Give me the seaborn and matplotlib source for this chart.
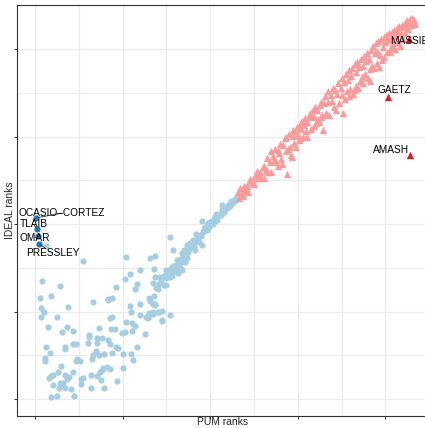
import numpy as np
import pandas as pd
import matplotlib
matplotlib.use("Agg")
import matplotlib.pyplot as plt
import seaborn as sns
from matplotlib.ticker import MultipleLocator, NullFormatter

# ---------------- data (ranks) ----------------
dem_pum = [7, 10, 7, 25, 38, 15, 31, 37, 43, 62, 62, 73, 66, 83, 13, 17, 11, 11, 34, 34,
           43, 47, 48, 47, 51, 61, 71, 71, 76, 83, 70, 66, 65, 73, 79, 86, 87, 91, 88, 86,
           104, 111, 114, 111, 103, 99, 93, 95, 88, 100, 110, 112, 116, 125, 120, 120, 109, 130, 135, 135,
           142, 145, 135, 137, 129, 86, 82, 77, 74, 78, 71, 75, 64, 79, 64, 94, 101, 55, 53, 53,
           43, 39, 36, 41, 34, 31, 27, 28, 32, 34, 30, 26, 20, 16, 18, 21, 18, 25, 45,
           13, 55, 104, 131, 137, 154, 158, 8, 29, 18, 6, 83, 88, 92, 103, 109, 120, 116, 114, 110,
           130, 131, 137, 136, 138, 135, 141, 136, 137, 144, 147, 145, 140, 130, 127, 145, 149, 150, 154, 156,
           159, 162, 163, 168, 166, 162, 171, 173, 168, 170, 175, 177, 181, 183, 187, 191, 184, 189, 192, 191,
           194, 198, 196, 202, 206, 208, 211, 213, 216, 219, 221, 225, 227, 231, 213, 154,
           200, 204, 210, 215, 218, 222, 224, 228, 229, 226, 223, 220, 217, 214, 212, 209, 207, 205, 203, 199,
           197, 193, 190, 186, 183, 180, 178, 176, 174, 172, 169, 167, 165, 161, 158, 157, 155, 152, 148, 146,
           143, 150, 140]
dem_ideal = [104, 99, 94, 94, 105, 82, 77, 82, 78, 73, 71, 81, 111, 113, 59, 53, 47, 44, 59, 57,
             63, 63, 46, 44, 44, 64, 70, 64, 70, 68, 55, 50, 46, 50, 51, 63, 80, 80, 94, 93,
             88, 87, 84, 78, 77, 75, 59, 58, 53, 51, 51, 45, 59, 74, 96, 109, 106, 96, 100, 97,
             100, 89, 109, 109, 93, 34, 37, 33, 31, 35, 26, 22, 27, 13, 13, 21, 36, 24, 23, 17,
             31, 25, 23, 12, 13, 16, 13, 18, 18, 27, 38, 31, 27, 24, 26, 16, 2, 3, 4,
             175, 158, 162, 161, 163, 185, 170, 135, 129, 118, 116, 114, 116, 128, 137, 143, 148, 132, 126, 100,
             115, 112, 107, 118, 127, 133, 132, 149, 140, 136, 130, 101, 99, 98, 94, 90, 148, 138, 140, 141,
             149, 146, 144, 147, 155, 159, 157, 161, 167, 170, 168, 178, 175, 170, 179, 176, 189, 186, 191, 203,
             197, 199, 193, 204, 208, 205, 212, 216, 214, 218, 222, 224, 226, 231, 222, 96,
             202, 206, 210, 217, 220, 223, 226, 229, 228, 225, 221, 219, 216, 213, 210, 209, 211, 203, 200, 197,
             201, 194, 188, 185, 181, 182, 174, 172, 176, 165, 162, 160, 151, 153, 152, 145, 150, 146, 142, 139,
             140, 130, 126]

rep_pum = [232, 233, 234, 236, 237, 238, 239, 241, 242, 243, 245, 246, 248, 249, 250, 252, 253, 254, 256, 257,
           258, 260, 261, 262, 264,
           265, 266, 268, 269, 270, 272, 273, 274, 275, 277, 278, 279, 280, 281, 282, 283, 285, 286, 287, 288,
           289, 290, 291, 292, 293, 294, 295, 296, 297, 298, 299, 300, 301, 302, 303, 304, 305, 306, 307, 308,
           309, 310, 311, 313, 314, 315, 316, 317, 318, 319, 320, 321, 322, 323, 324, 325, 326, 327, 328, 329, 330,
           331, 332, 334, 335, 336, 338, 339, 340, 341, 343, 344, 345, 346, 347, 349, 350, 351, 352, 353, 354,
           355, 356, 357, 358, 359, 360, 361, 362, 363, 364, 365, 366, 367, 368, 369, 370, 371, 372, 373, 374,
           375, 376, 377, 378, 379, 380, 381, 382, 383, 384, 385, 386, 387, 388, 389, 390, 391, 392, 393, 394,
           395, 396, 397, 398, 399, 400, 401, 402, 403, 404, 405, 406, 407, 408, 409, 410, 411, 412, 413, 414,
           415, 416, 417, 418, 419, 420,
           421, 422, 423, 424, 425, 426, 427, 428, 429, 430, 431, 433, 434]
rep_ideal = [237, 230, 241, 235, 232, 241, 244, 239, 243, 237, 249, 252, 247, 251, 246, 257, 253, 261, 253, 260,
             254, 265, 253, 266, 262,
             275, 260, 271, 283, 260, 278, 273, 286, 271, 285, 266, 281, 292, 274, 269, 290, 298, 284, 299, 257,
             286, 303, 288, 279, 277, 301, 308, 293, 306, 288, 311, 302, 296, 314, 298, 309, 318, 300, 313, 321,
             306, 317, 300, 322, 327, 309, 322, 330, 312, 324, 334, 316, 330, 320, 317, 336, 322, 340, 325, 307, 338,
             346, 327, 340, 352, 325, 348, 341, 356, 334, 353, 330, 349, 361, 338, 356, 367, 348, 327, 362, 343,
             372, 352, 365, 346, 376, 354, 369, 378, 349, 353, 383, 358, 374, 385, 356, 379, 364, 389, 368, 381,
             361, 392, 372, 386, 396, 367, 389, 377, 364, 399, 381, 404, 378, 395, 407, 384, 398, 409, 380, 393,
             412, 388, 402, 414, 391, 408, 416, 397, 410, 418, 397, 412, 402, 420, 405, 422, 400, 415, 424, 408,
             419, 426, 403, 418, 428, 412,
             425, 430, 418, 429, 433, 423, 431, 434, 427, 435, 432, 433, 429]

hl_names = ["OCASIO\u2013CORTEZ", "TLAIB", "OMAR", "PRESSLEY", "MASSIE", "GAETZ", "AMASH"]
hl_pum = [1, 2, 3, 5, 427, 403, 428]
hl_ideal = [207, 194, 186, 177, 411, 345, 279]
hl_party = ["D", "D", "D", "D", "R", "R", "R"]
# label offsets (points) relative to the highlighted member
hl_dx = [18.7, -2.2, -2.2, 9.7, 0.0, 4.5, -13.5]
hl_dy = [3.4, 3.6, -0.9, -6.5, -1.2, 5.3, 3.8]

# ---------------- style ----------------
sns.set_theme(style="white")
plt.rcParams["font.family"] = ["Liberation Sans", "DejaVu Sans"]

fig = plt.figure(figsize=(4.25, 4.28), dpi=100)
ax = fig.add_axes([17 / 425, 12 / 428, 413 / 425, 411 / 428])

df_d = pd.DataFrame({"pum": dem_pum, "ideal": dem_ideal})
df_r = pd.DataFrame({"pum": rep_pum, "ideal": rep_ideal})
df_h = pd.DataFrame({"pum": hl_pum, "ideal": hl_ideal, "party": hl_party, "name": hl_names})

sns.scatterplot(data=df_d, x="pum", y="ideal", color="#a6cee3", marker="o", s=20,
                linewidth=0, ax=ax, zorder=3)
sns.scatterplot(data=df_r, x="pum", y="ideal", color="#fb9a99", marker="^", s=28,
                linewidth=0, ax=ax, zorder=3)
sns.scatterplot(data=df_h[df_h.party == "D"], x="pum", y="ideal", color="#1f78b4",
                marker="o", s=20, linewidth=0, ax=ax, zorder=4)
sns.scatterplot(data=df_h[df_h.party == "R"], x="pum", y="ideal", color="#e31a1c",
                marker="^", s=28, linewidth=0, ax=ax, zorder=4)

for name, x, y, dx, dy in zip(hl_names, hl_pum, hl_ideal, hl_dx, hl_dy):
    ax.annotate(name, xy=(x, y), xytext=(dx, dy), textcoords="offset points",
                ha="center", va="center", fontsize=7.3, color="black", zorder=5,
                annotation_clip=False,
                bbox=dict(boxstyle="square,pad=0.05", fc="none", ec="none"),
                arrowprops=dict(arrowstyle="-", lw=0.5, color="black",
                                shrinkA=0, shrinkB=1.5))

ax.set_xlim(-20.6, 451)
ax.set_ylim(-19.4, 450.3)

for axis in (ax.xaxis, ax.yaxis):
    axis.set_major_locator(MultipleLocator(100))
    axis.set_minor_locator(MultipleLocator(50))
    axis.set_major_formatter(NullFormatter())
    axis.set_minor_formatter(NullFormatter())

ax.grid(True, which="both", color="#ebebeb", lw=0.9, zorder=0)
ax.set_axisbelow(True)
ax.tick_params(which="major", length=2.5, width=0.7, color="#333333",
               bottom=True, left=True, top=False, right=False)
ax.tick_params(which="minor", length=0)

for side in ["left", "bottom", "top", "right"]:
    ax.spines[side].set_color("#333333")
    ax.spines[side].set_linewidth(0.8)

ax.set_xlabel("")
ax.set_ylabel("")
fig.text(223 / 425, 1 - 422 / 428, "PUM ranks", ha="center", va="center", fontsize=7.4)
fig.text(10 / 425, 1 - 210 / 428, "IDEAL ranks", ha="center", va="center",
         rotation=90, fontsize=7.4)

fig.savefig("out.png", dpi=100)
